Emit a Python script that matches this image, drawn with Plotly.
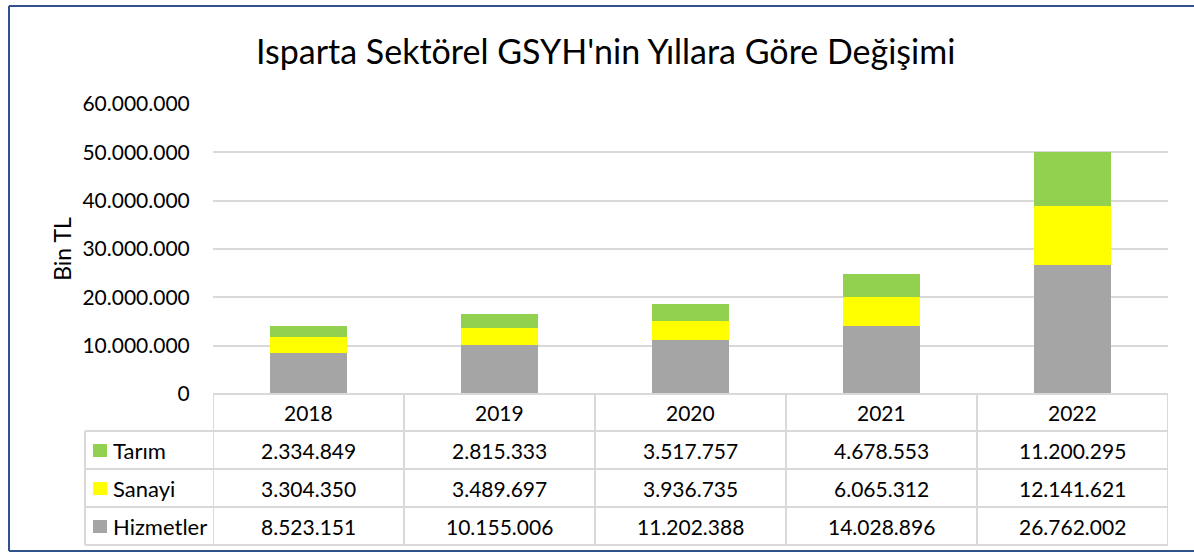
import plotly.graph_objects as go

years = ["2018", "2019", "2020", "2021", "2022"]
tarim = [2334849, 2815333, 3517757, 4678553, 11200295]
sanayi = [3304350, 3489697, 3936735, 6065312, 12141621]
hizmetler = [8523151, 10155006, 11202388, 14028896, 26762002]
y_ticks = [0, 10000000, 20000000, 30000000, 40000000, 50000000, 60000000]

series = [("Tarım", tarim, "#92D050"), ("Sanayi", sanayi, "#FFFF00"), ("Hizmetler", hizmetler, "#A5A5A5")]
title = "Isparta Sektörel GSYH'nin Yıllara Göre Değişimi"

W, H = 1194, 559
L, R, T, B = 213, 1168, 104, 394
FONT = "Lato"
FS = 21
GRID = "#D9D9D9"
FRAME = "#2F528F"


def fmt(v):
    return f"{v:,}".replace(",", ".")


def px_x(p):
    return (p - L) / (R - L)


def px_y(p):
    return (B - p) / (B - T)


fig = go.Figure()
# stacked bottom to top: Hizmetler, Sanayi, Tarım
for name, vals, col in reversed(series):
    fig.add_trace(go.Bar(x=years, y=vals, name=name, marker=dict(color=col, line=dict(width=0)),
                         hoverinfo="skip"))

shapes = []
annotations = []

# table geometry (pixel rows)
row_edges = [394, 431, 469, 507, 545]
label_left = 85
n = len(years)

# horizontal lines
shapes.append(dict(type="line", xref="x", yref="paper", x0=-0.5, x1=n - 0.5,
                   y0=px_y(row_edges[0]), y1=px_y(row_edges[0]), line=dict(color=GRID, width=2)))
for ye in row_edges[1:]:
    shapes.append(dict(type="line", xref="paper", yref="paper", x0=px_x(label_left), x1=1,
                       y0=px_y(ye), y1=px_y(ye), line=dict(color=GRID, width=2)))
# vertical lines
for i in range(n + 1):
    shapes.append(dict(type="line", xref="x", yref="paper", x0=i - 0.5, x1=i - 0.5,
                       y0=px_y(row_edges[0]), y1=px_y(row_edges[-1]), line=dict(color=GRID, width=2)))
shapes.append(dict(type="line", xref="paper", yref="paper", x0=px_x(label_left), x1=px_x(label_left),
                   y0=px_y(row_edges[1]), y1=px_y(row_edges[-1]), line=dict(color=GRID, width=2)))

# header years
for i, yr in enumerate(years):
    annotations.append(dict(x=i, y=px_y((row_edges[0] + row_edges[1]) / 2), xref="x", yref="paper",
                            text=yr, showarrow=False, font=dict(family=FONT, size=FS, color="#000"),
                            xanchor="center", yanchor="middle"))

for r, (name, vals, col) in enumerate(series):
    yc = (row_edges[r + 1] + row_edges[r + 2]) / 2
    shapes.append(dict(type="rect", xref="paper", yref="paper", x0=px_x(93), x1=px_x(107),
                       y0=px_y(yc - 6), y1=px_y(yc + 7), fillcolor=col, line=dict(width=0)))
    annotations.append(dict(x=px_x(111), y=px_y(yc), xref="paper", yref="paper", text=name,
                            showarrow=False, font=dict(family=FONT, size=FS + 1, color="#000"),
                            xanchor="left", yanchor="middle"))
    for i, v in enumerate(vals):
        annotations.append(dict(x=i, y=px_y(yc), xref="x", yref="paper", text=fmt(v),
                                showarrow=False, font=dict(family=FONT, size=FS, color="#000"),
                                xanchor="center", yanchor="middle"))

# frame
fx0, fy0, fy1 = 9, 6, 551
shapes.append(dict(type="line", xref="paper", yref="paper", x0=px_x(fx0), x1=px_x(W + 20),
                   y0=px_y(fy0), y1=px_y(fy0), line=dict(color=FRAME, width=2)))
shapes.append(dict(type="line", xref="paper", yref="paper", x0=px_x(fx0), x1=px_x(fx0),
                   y0=px_y(fy0), y1=px_y(fy1), line=dict(color=FRAME, width=2)))
shapes.append(dict(type="line", xref="paper", yref="paper", x0=px_x(fx0), x1=px_x(W + 20),
                   y0=px_y(fy1), y1=px_y(fy1), line=dict(color=FRAME, width=2)))

# title
annotations.append(dict(x=px_x(605), y=px_y(51), xref="paper", yref="paper", text=title,
                        showarrow=False, font=dict(family=FONT, size=34, color="#000"),
                        xanchor="center", yanchor="middle"))

fig.update_layout(
    width=W, height=H,
    margin=dict(l=L, r=W - R, t=T, b=H - B, pad=0),
    barmode="stack", bargap=0.6,
    plot_bgcolor="white", paper_bgcolor="white",
    showlegend=False,
    shapes=shapes, annotations=annotations,
    font=dict(family=FONT, color="#000"),
)
fig.update_xaxes(type="category", range=[-0.5, n - 0.5], showticklabels=False, showgrid=False,
                 zeroline=False, showline=False, fixedrange=True)
fig.update_yaxes(range=[0, 60000000], tickvals=y_ticks, ticktext=[fmt(v) for v in y_ticks],
                 tickfont=dict(family=FONT, size=FS, color="#000"),
                 showgrid=True, gridcolor=GRID, gridwidth=2, zeroline=False, showline=False,
                 ticks="outside", ticklen=18, tickcolor="rgba(0,0,0,0)",
                 title=dict(text="Bin TL", font=dict(family=FONT, size=23, color="#000"), standoff=4),
                 fixedrange=True)

fig.write_html("out.html", config={"displayModeBar": False, "responsive": False},
               post_script="document.documentElement.style.overflow='hidden';document.body.style.margin='0';document.body.style.overflow='hidden';")
